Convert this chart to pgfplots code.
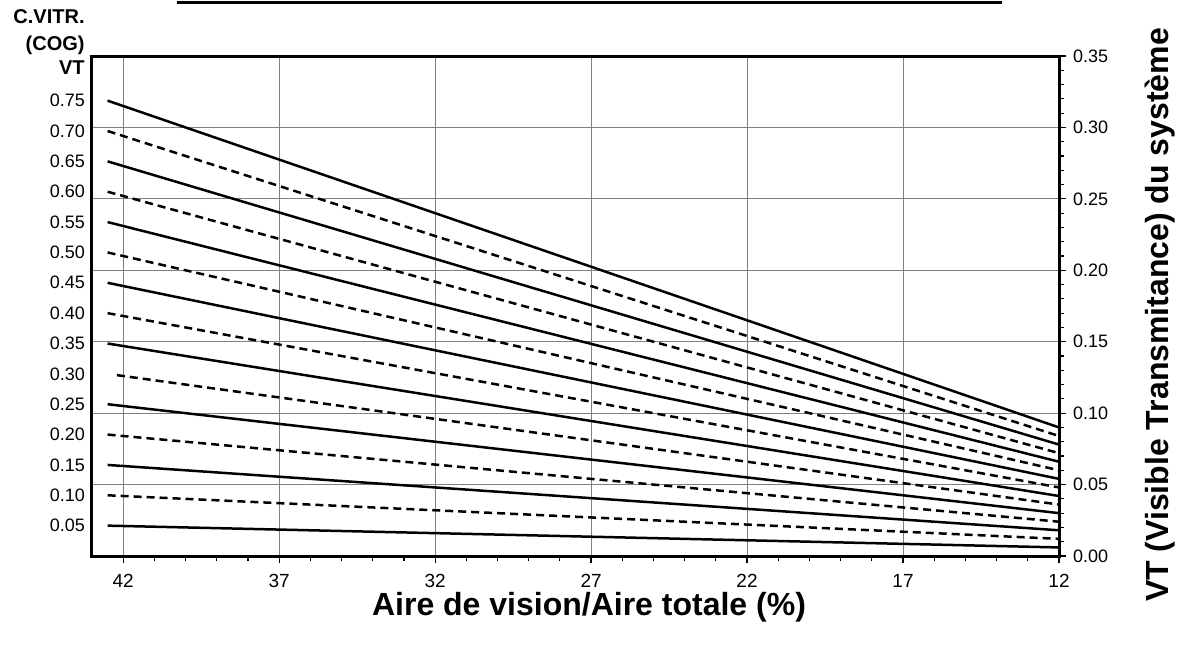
\documentclass[border=0pt]{standalone}
\usepackage{pgfplots}
\pgfplotsset{compat=1.18}
\usepackage{fontspec}
\setmainfont{Liberation Sans}
\begin{document}
\begin{tikzpicture}
\begin{axis}[
  name=ax, at={(0,0)}, anchor=south west,
  scale only axis, width=483.5pt, height=250pt,
  x dir=reverse, xmin=12, xmax=43, ymin=0, ymax=0.35,
  xtick={42,37,32,27,22,17,12}, minor x tick num=4,
  ytick={0,0.05,0.10,0.15,0.20,0.25,0.30,0.35}, minor y tick num=4,
  ytick pos=right, yticklabel pos=right, xtick pos=bottom,
  tick align=outside,
  major tick length=3.5pt, minor tick length=2.5pt,
  tick style={black, line width=0.6pt},
  xmajorgrids, ymajorgrids,
  major grid style={gray, line width=0.5pt},
  axis line style={black, line width=1.5pt},
  /pgf/number format/assume math mode=true,
  yticklabel style={/pgf/number format/fixed, /pgf/number format/fixed zerofill, /pgf/number format/precision=2, font=\fontsize{9}{10}\selectfont},
  xticklabel style={font=\fontsize{9.5}{11}\selectfont, yshift=-2pt},
  clip=false,
]
\addplot[black, line width=1.25pt] coordinates {(42.5,0.31875) (12,0.090)};
\addplot[black, line width=1.25pt, dash pattern=on 4pt off 2.5pt] coordinates {(42.5,0.29750) (12,0.084)};
\addplot[black, line width=1.25pt] coordinates {(42.5,0.27625) (12,0.078)};
\addplot[black, line width=1.25pt, dash pattern=on 4pt off 2.5pt] coordinates {(42.5,0.25500) (12,0.072)};
\addplot[black, line width=1.25pt] coordinates {(42.5,0.23375) (12,0.066)};
\addplot[black, line width=1.25pt, dash pattern=on 4pt off 2.5pt] coordinates {(42.5,0.21250) (12,0.060)};
\addplot[black, line width=1.25pt] coordinates {(42.5,0.19125) (12,0.054)};
\addplot[black, line width=1.25pt, dash pattern=on 4pt off 2.5pt] coordinates {(42.5,0.17000) (12,0.048)};
\addplot[black, line width=1.25pt] coordinates {(42.5,0.14875) (12,0.042)};
\addplot[black, line width=1.25pt, dash pattern=on 4pt off 2.5pt] coordinates {(42.2,0.12660) (12,0.036)};
\addplot[black, line width=1.25pt] coordinates {(42.5,0.10625) (12,0.030)};
\addplot[black, line width=1.25pt, dash pattern=on 4pt off 2.5pt] coordinates {(42.5,0.08500) (12,0.024)};
\addplot[black, line width=1.25pt] coordinates {(42.5,0.06375) (12,0.018)};
\addplot[black, line width=1.25pt, dash pattern=on 4pt off 2.5pt] coordinates {(42.5,0.04250) (12,0.012)};
\addplot[black, line width=1.25pt] coordinates {(42.5,0.02125) (12,0.006)};
\end{axis}
\begin{axis}[
  at={(0,0)}, anchor=south west,
  scale only axis, width=483.5pt, height=250pt,
  x dir=reverse, xmin=12, xmax=43, ymin=0, ymax=0.35,
  axis line style={draw=none}, tick style={draw=none},
  xtick=\empty, ytick pos=left, major tick length=0pt,
  ytick={0.02125,0.04250,0.06375,0.08500,0.10625,0.12750,0.14875,0.17000,0.19125,0.21250,0.23375,0.25500,0.27625,0.29750,0.31875},
  yticklabels={0.05,0.10,0.15,0.20,0.25,0.30,0.35,0.40,0.45,0.50,0.55,0.60,0.65,0.70,0.75},
  yticklabel style={font=\fontsize{9}{10}\selectfont},
]
\addplot[draw=none] coordinates {(42,0.1) (12,0.1)};
\end{axis}
\node[anchor=east, font=\fontsize{10}{12}\selectfont\bfseries, inner sep=0pt] at ([shift={(-3.5pt,19.5pt)}]ax.north west) {C.VITR.};
\node[anchor=east, font=\fontsize{10}{12}\selectfont\bfseries, inner sep=0pt] at ([shift={(-3.5pt,5.5pt)}]ax.north west) {(COG)};
\node[anchor=east, font=\fontsize{10}{12}\selectfont\bfseries, inner sep=0pt] at ([shift={(-3.5pt,-6pt)}]ax.north west) {VT};
\node[font=\fontsize{16}{19}\selectfont\bfseries, inner sep=0pt] at ([shift={(248.5pt,-25.5pt)}]ax.south west) {Aire de vision/Aire totale (\%)};
\node[rotate=90, font=\fontsize{16}{19}\selectfont\bfseries, inner sep=0pt] at ([shift={(50.5pt,-4.5pt)}]ax.east) {VT (Visible Transmitance) du système};
\draw[line width=1.6pt] ([shift={(42.5pt,26.8pt)}]ax.north west) -- ([shift={(455pt,26.8pt)}]ax.north west);
\pgfresetboundingbox
\path[use as bounding box] ([shift={(-46pt,-49pt)}]ax.south west) rectangle ([shift={(61.5pt,28pt)}]ax.north east);
\end{tikzpicture}
\end{document}
